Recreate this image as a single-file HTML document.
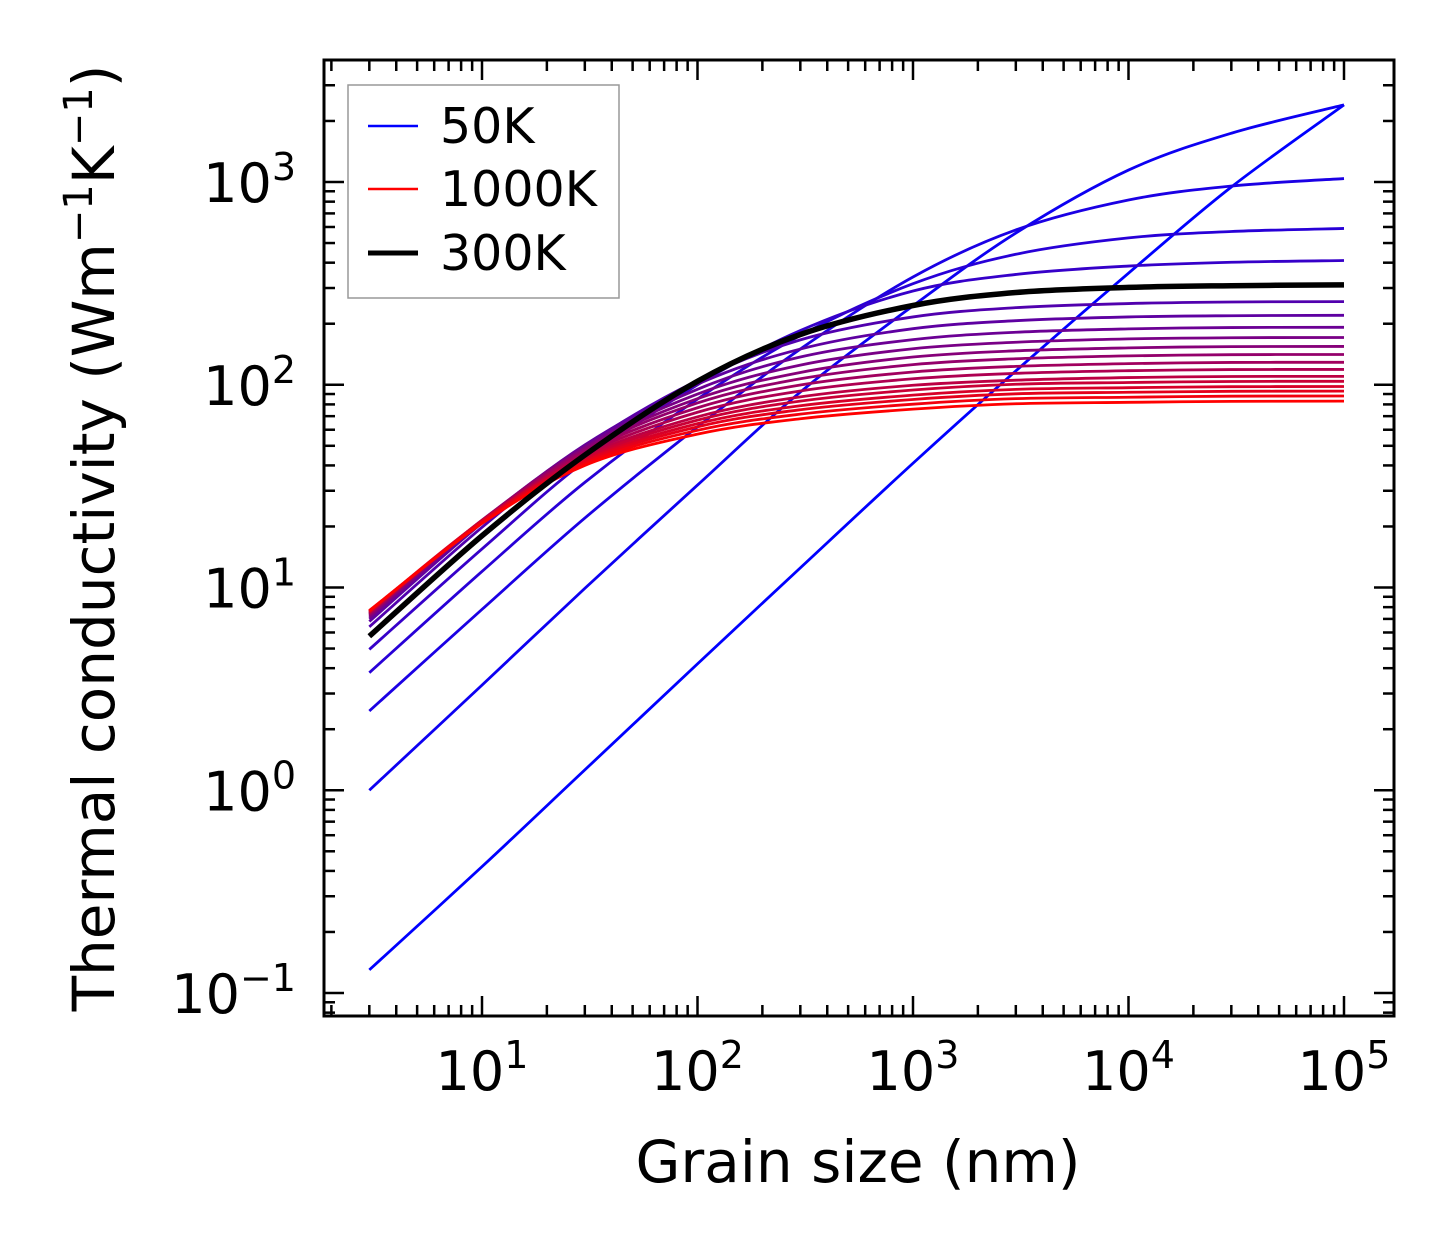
<!DOCTYPE html>
<html><head><meta charset="utf-8"><style>
html,body{margin:0;padding:0;background:#fff;}
svg{display:block;font-family:"DejaVu Sans","Liberation Sans",sans-serif;}
</style></head><body>
<svg id="chart" width="1454" height="1254" viewBox="0 0 1454 1254" xmlns="http://www.w3.org/2000/svg">
<rect width="1454" height="1254" fill="#fff"/>
<g id="curves"></g>
<g id="ticks"></g>
<rect x="324" y="60" width="1070" height="956" fill="none" stroke="#000" stroke-width="3"/>
<text x="858" y="1182" font-size="58" text-anchor="middle">Grain size (nm)</text>
<text transform="translate(114,538) rotate(-90)" font-size="58" text-anchor="middle">Thermal conductivity (Wm<tspan dy="-22" font-size="40">−1</tspan><tspan dy="22">K</tspan><tspan dy="-22" font-size="40">−1</tspan><tspan dy="22">)</tspan></text>
<g>
<rect x="348" y="85" width="271" height="213" fill="#fff" stroke="#999" stroke-width="1.5"/>
<g><line x1="368" y1="126" x2="418" y2="126" stroke="#0000ff" stroke-width="2.5"/><text x="440" y="143" font-size="49">50K</text></g>
<g><line x1="368" y1="189" x2="418" y2="189" stroke="#ff0000" stroke-width="2.5"/><text x="440" y="206" font-size="49">1000K</text></g>
<g><line x1="368" y1="253" x2="418" y2="253" stroke="#000" stroke-width="5"/><text x="440" y="270" font-size="49">300K</text></g>
</g>
</svg>
<script>
const grainSizes = [3,10,30,100,300,1000,3000,10000,30000,100000];
const temps = [50,100,150,200,250,300,350,400,450,500,550,600,650,700,750,800,850,900,950,1000];
const k50  = [0.13,0.42,1.26,4.2,12.5,41,117,355,945,2400];
const k100 = [1.0,3.3,9.9,32,92,245,560,1145,1740,2400];
const k150 = [2.46,7.8,22,62,150,340,580,815,955,1040];
const k200 = [3.8,12,33,85,175,315,440,530,570,590];
const k250 = [4.95,15.5,42,100,185,290,350,385,402,410];
const k300 = [5.75,18,45,104,177,246,285,302,308,311];
const k350 = [6.4,19.8,49.7,105,166.5,216,240,251.5,256,257];
const k400 = [6.8,20.8,50.5,100.6,150,189,207,216,219,220];
const k450 = [7.0,21.1,50,95,137,167,181.5,188.6,191.5,192];
const k500 = [7.15,21.3,49.3,90,125,150.5,162,168.3,170.6,171];
const k550 = [7.25,21.4,48.5,85.4,115,137,147,152,154.2,154.5];
const k600 = [7.35,21.5,47.6,81.3,107,125.7,134.3,138.8,140.7,141];
const k650 = [7.42,21.4,46.5,77,99.7,115.6,123.2,127.1,128.8,129];
const k700 = [7.48,21.4,45.4,73.2,93.2,107,113.8,117.3,118.8,119];
const k750 = [7.53,21.3,44.3,69.5,87.1,99.4,105.3,108.5,109.8,110];
const k800 = [7.57,21.2,43.4,66.9,83,94.2,100.6,102.6,103.8,104];
const k850 = [7.61,21.3,42.5,64.3,78.8,88.9,94.9,96.7,97.8,98];
const k900 = [7.64,21,41.8,62,75.3,84.6,90.2,91.8,92.8,93];
const k950 = [7.67,20.8,40.9,59.6,71.6,80.2,85.4,86.8,87.8,88];
const k1000 = [7.7,20.7,40,57.1,68,75.8,80.6,81.9,82.8,83];
const series = [k50,k100,k150,k200,k250,k300,k350,k400,k450,k500,k550,k600,k650,k700,k750,k800,k850,k900,k950,k1000];
const highlight = k300;
const xTickExps = [1,2,3,4,5];
const yTickExps = [-1,0,1,2,3];

const NS = "http://www.w3.org/2000/svg";
const X = v => 482 + 215.5 * (Math.log10(v) - 1);
const Y = v => 182 + 202.75 * (3 - Math.log10(v));

function pathFor(arr){
  const pts = grainSizes.map((g,i)=>[X(g),Y(arr[i])]);
  let d = "M"+pts[0][0].toFixed(2)+","+pts[0][1].toFixed(2);
  for(let i=0;i<pts.length-1;i++){
    const p0=pts[Math.max(0,i-1)],p1=pts[i],p2=pts[i+1],p3=pts[Math.min(pts.length-1,i+2)];
    const c1=[p1[0]+(p2[0]-p0[0])/6,p1[1]+(p2[1]-p0[1])/6];
    const c2=[p2[0]-(p3[0]-p1[0])/6,p2[1]-(p3[1]-p1[1])/6];
    d+=" C"+c1.map(n=>n.toFixed(2)).join(",")+" "+c2.map(n=>n.toFixed(2)).join(",")+" "+p2.map(n=>n.toFixed(2)).join(",");
  }
  return d;
}
const cg = document.getElementById("curves");
series.forEach((arr,i)=>{
  const t=i/(series.length-1);
  const p=document.createElementNS(NS,"path");
  p.setAttribute("d",pathFor(arr));
  p.setAttribute("fill","none");
  p.setAttribute("stroke","rgb("+Math.round(255*t)+",0,"+Math.round(255*(1-t))+")");
  p.setAttribute("stroke-width","2.8");
  
  
  cg.appendChild(p);
});
const hp=document.createElementNS(NS,"path");
hp.setAttribute("d",pathFor(highlight));
hp.setAttribute("fill","none");
hp.setAttribute("stroke","#000");
hp.setAttribute("stroke-width","5.5");


cg.appendChild(hp);

const tg=document.getElementById("ticks");
function ln(x1,y1,x2,y2){
  const l=document.createElementNS(NS,"line");
  l.setAttribute("x1",x1);l.setAttribute("y1",y1);l.setAttribute("x2",x2);l.setAttribute("y2",y2);
  l.setAttribute("stroke","#000");l.setAttribute("stroke-width","2.5");
  
  
  tg.appendChild(l);
}
function label(x,y,exp,anchor,name){
  const t=document.createElementNS(NS,"text");
  t.setAttribute("x",x);t.setAttribute("y",y);t.setAttribute("font-size","54");t.setAttribute("text-anchor",anchor);
  t.innerHTML='10<tspan dy="-22" font-size="38">'+(exp<0?'−'+(-exp):exp)+'</tspan>';
  
  
  tg.appendChild(t);
}
for(let e=0;e<=5;e++){
  for(let m=1;m<10;m++){
    const v=m*Math.pow(10,e), x=X(v);
    if(x<325||x>1393) continue;
    const L=m===1?20:11;
    ln(x,1016,x,1016-L); ln(x,60,x,60+L);
  }
}
xTickExps.forEach(e=>label(X(Math.pow(10,e)),1090,e,"middle","x-tick-label"));
for(let e=-2;e<=3;e++){
  for(let m=1;m<10;m++){
    const v=m*Math.pow(10,e), y=Y(v);
    if(y<61||y>1015) continue;
    const L=m===1?20:11;
    ln(324,y,324+L,y); ln(1394,y,1394-L,y);
  }
}
yTickExps.forEach(e=>label(296,Y(Math.pow(10,e))+20,e,"end","y-tick-label"));
</script>
</body></html>
